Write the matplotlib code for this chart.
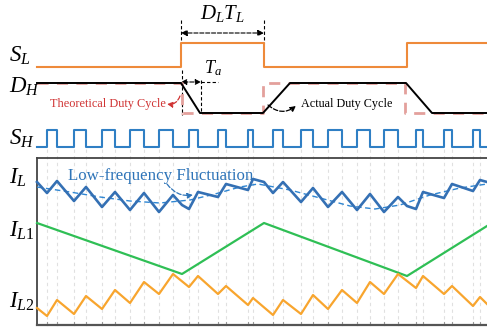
import numpy as np
import matplotlib
matplotlib.use("Agg")
import matplotlib.pyplot as plt

plt.rcParams["font.family"] = ["Liberation Serif", "DejaVu Serif"]
plt.rcParams["mathtext.fontset"] = "custom"
plt.rcParams["mathtext.rm"] = "Liberation Serif"
plt.rcParams["mathtext.it"] = "Liberation Serif:italic"

# ---- data (time axis and levels, in figure px) ----
t_start, t_end = 37, 487

# S_H switching instants
sh_rise = [47, 74, 102, 130, 159, 189, 218, 248, 273, 301, 328, 357, 384, 416, 444, 473]
sh_fall = [57, 86, 115, 144, 173, 198, 226, 253, 283, 313, 342, 370, 398, 423, 452, 480]
sh_low, sh_high = 147, 130

# S_L edges (low -> high -> low -> high)
sl_edges = [181, 264, 407]
sl_low, sl_high = 67, 43

# D_H actual (trapezoid) and theoretical (square)
dh_t = [37, 181, 200, 263, 290, 406, 432, 487]
dh_v = [83, 83, 113, 113, 83, 83, 113, 113]
dh_theo_edges = [182, 263, 405]
dh_high, dh_low = 83, 113

# inductor currents
il_t = [37, 47, 57, 74, 86, 102, 115, 130, 144, 159, 173, 182, 189, 198, 218, 226, 248,
        253, 264, 273, 283, 301, 313, 328, 342, 357, 370, 384, 398, 407, 416, 423, 444,
        452, 473, 480, 487]
il_v = [182, 193, 181, 201, 187, 207, 192, 210, 193, 212, 195, 205, 209, 192, 197, 184, 190,
        179, 182, 193, 182, 202, 188, 207, 192, 210, 194, 212, 197, 206, 209, 192, 198,
        184, 191, 180, 182]

il_avg_t = [37, 70, 100, 130, 160, 190, 215, 240, 258, 290, 320, 350, 375, 400, 430, 460, 487]
il_avg_v = [187, 192, 197, 201, 203, 200, 194, 187, 184, 190, 198, 206, 209, 205, 195, 188, 184]

il1_t = [37, 182, 264, 407, 487]
il1_v = [223, 274, 223, 276, 226]

il2_t = [37, 47, 57, 74, 86, 102, 115, 130, 144, 159, 173, 189, 198, 218, 226, 248, 253,
         273, 283, 301, 313, 328, 342, 357, 370, 384, 398, 416, 423, 444, 452, 473, 480, 487]
il2_v = [308, 316, 300, 314, 296, 309, 290, 303, 282, 294, 274, 287, 276, 294, 286, 305, 298,
         315, 300, 314, 295, 309, 290, 303, 282, 294, 274, 288, 276, 294, 286, 306, 297, 304]

labels = [("$S_L$", 62), ("$D_H$", 93), ("$S_H$", 145),
          ("$I_L$", 184), ("$I_{L1}$", 237), ("$I_{L2}$", 308)]

c_sl = "#ee8a3a"
c_sh = "#2f7fc4"
c_il = "#3470b4"
c_il1 = "#2fbf55"
c_il2 = "#f8a52e"
c_red = "#d03333"
c_pink = "#e3a09c"


def square(edges, lo, hi, start_high=False):
    t = [t_start]
    v = [hi if start_high else lo]
    level = v[0]
    for e in edges:
        t += [e, e]
        nxt = lo if level == hi else hi
        v += [level, nxt]
        level = nxt
    t.append(t_end)
    v.append(level)
    return t, v


fig = plt.figure(figsize=(4.87, 3.33), dpi=100)
ax = fig.add_axes([0, 0, 1, 1])
ax.set_xlim(0, 487)
ax.set_ylim(333, 0)
ax.axis("off")

# grid lines at S_H edges
edges = sorted(sh_rise + sh_fall)
for e in edges:
    ax.plot([e, e], [149, 325], color="#e0e0e0", lw=0.8, ls=(0, (3, 3)), zorder=1)
    ax.plot([e, e], [322, 325], color="#999999", lw=0.8, zorder=2)

# lower panel frame
ax.plot([t_start, t_start], [158, 325], color="#444444", lw=1.3, zorder=3)
ax.plot([t_start, t_end], [158, 158], color="#444444", lw=1.3, zorder=3)
ax.plot([t_start, t_end], [325, 325], color="#555555", lw=1.6, zorder=3)

# S_L
t, v = square(sl_edges, sl_low, sl_high)
ax.plot(t, v, color=c_sl, lw=1.5, zorder=4)

# D_H theoretical + actual
t, v = square(dh_theo_edges, dh_low, dh_high, start_high=True)
ax.plot(t, v, color=c_pink, lw=2.0, ls=(0, (4, 3)), zorder=4)
ax.plot(dh_t, dh_v, color="black", lw=1.4, zorder=5)

# S_H
sh_edges = []
for r, f in zip(sh_rise, sh_fall):
    sh_edges += [r, f]
t, v = square(sh_edges, sh_low, sh_high)
ax.plot(t, v, color=c_sh, lw=1.5, zorder=4)

# currents
ax.plot(il_avg_t, il_avg_v, color="#2f86d2", lw=1.0, ls=(0, (4, 2.5)), zorder=4)
ax.plot(il_t, il_v, color=c_il, lw=1.9, zorder=5)
ax.plot(il1_t, il1_v, color=c_il1, lw=1.6, zorder=5)
ax.plot(il2_t, il2_v, color=c_il2, lw=1.6, zorder=5)

# channel labels
for txt, yb in labels:
    ax.text(9, yb, txt, fontsize=16.5, va="baseline", ha="left")

# D_L T_L annotation
dash = (0, (3, 2))
for xv in [sl_edges[0], sl_edges[1]]:
    ax.plot([xv, xv], [20, 43], color="black", lw=0.8, ls=dash)
ax.annotate("", xy=(sl_edges[0], 33), xytext=(sl_edges[1], 33),
            arrowprops=dict(arrowstyle="<|-|>", color="black", lw=0.8, ls="--",
                            mutation_scale=9, shrinkA=0, shrinkB=0))
ax.text(222, 19, "$D_LT_L$", fontsize=15, ha="center", va="baseline")

# T_a annotation
ax.plot([182, 182], [70, 115], color="black", lw=0.8, ls=dash)
ax.plot([201, 201], [80, 113], color="black", lw=0.8, ls=dash)
ax.plot([201, 218], [82, 82], color="black", lw=0.8, ls=dash)
ax.annotate("", xy=(181, 82), xytext=(201, 82),
            arrowprops=dict(arrowstyle="<|-|>", color="black", lw=0.8, ls="--",
                            mutation_scale=8, shrinkA=0, shrinkB=0))
ax.text(204, 73, "$T_a$", fontsize=13, ha="left", va="baseline")

# duty-cycle notes
ax.text(50, 107, "Theoretical Duty Cycle", fontsize=8.8, color=c_red, va="baseline")
ax.annotate("", xy=(167, 104), xytext=(180, 96),
            arrowprops=dict(arrowstyle="-|>", color=c_red, lw=0.9, ls="--",
                            mutation_scale=8, shrinkA=0, shrinkB=0,
                            connectionstyle="arc3,rad=-0.4"))
ax.text(301, 107, "Actual Duty Cycle", fontsize=8.7, color="black", va="baseline")
ax.annotate("", xy=(296, 106), xytext=(268, 105),
            arrowprops=dict(arrowstyle="-|>", color="black", lw=0.9, ls="--",
                            mutation_scale=8, shrinkA=0, shrinkB=0,
                            connectionstyle="arc3,rad=0.4"))

# low-frequency note
ax.text(68, 180, "Low-frequency Fluctuation", fontsize=12.2, color="#2e74b8", va="baseline")
ax.annotate("", xy=(193, 195), xytext=(167, 184),
            arrowprops=dict(arrowstyle="-|>", color="#2e74b8", lw=0.9, ls="--",
                            mutation_scale=8, shrinkA=0, shrinkB=0,
                            connectionstyle="arc3,rad=0.3"))

fig.savefig("out.png", dpi=100)
